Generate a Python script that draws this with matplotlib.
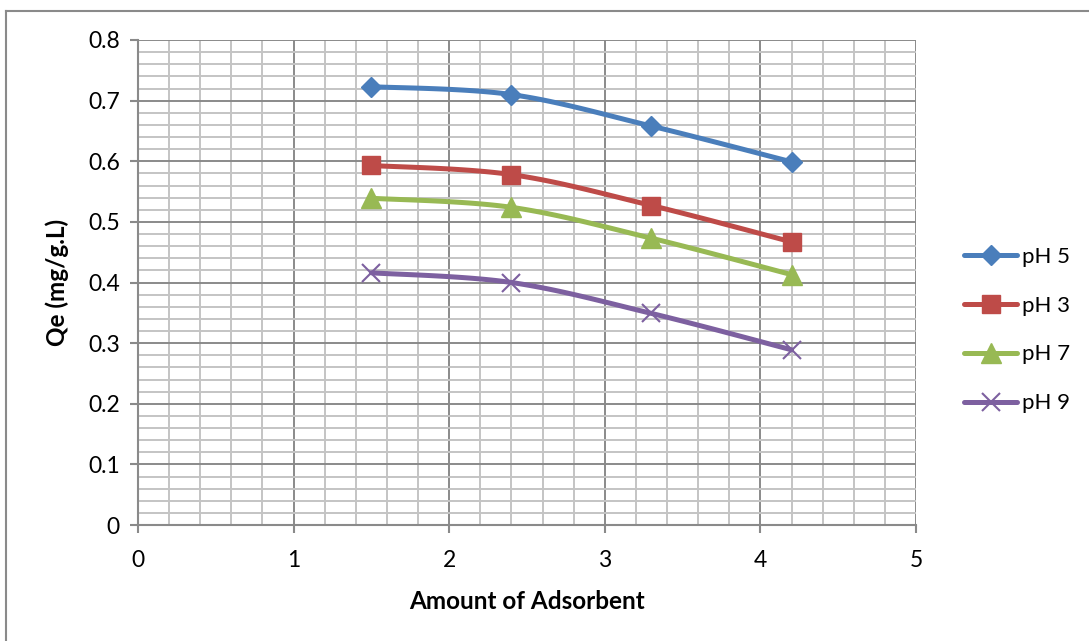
import numpy as np
import matplotlib
matplotlib.use("Agg")
import matplotlib.pyplot as plt
from matplotlib.lines import Line2D
from matplotlib.ticker import MultipleLocator

plt.rcParams['font.family'] = ['Lato', 'DejaVu Sans']

# Adsorbent amounts and equilibrium uptake per pH
adsorbent = [1.5, 2.4, 3.3, 4.2]
qe_ph5 = [0.723, 0.710, 0.658, 0.599]
qe_ph3 = [0.593, 0.578, 0.527, 0.467]
qe_ph7 = [0.539, 0.524, 0.473, 0.413]
qe_ph9 = [0.416, 0.400, 0.349, 0.289]
series_labels = ["pH 5", "pH 3", "pH 7", "pH 9"]

x_ticks = [0, 1, 2, 3, 4, 5]
y_ticks = [0, 0.1, 0.2, 0.3, 0.4, 0.5, 0.6, 0.7, 0.8]
y_tick_labels = ["0", "0.1", "0.2", "0.3", "0.4", "0.5", "0.6", "0.7", "0.8"]


def smooth_curve(xs, ys, n=30):
    """Catmull-Rom style smoothing through the given points (cubic Bezier segments)."""
    p = np.column_stack([xs, ys]).astype(float)
    ext = np.vstack([p[0], p, p[-1]])
    out = []
    t = np.linspace(0, 1, n)[:, None]
    for i in range(1, len(ext) - 2):
        p0, p1, p2, p3 = ext[i - 1], ext[i], ext[i + 1], ext[i + 2]
        c1 = p1 + (p2 - p0) / 6.0
        c2 = p2 - (p3 - p1) / 6.0
        seg = ((1 - t) ** 3) * p1 + 3 * ((1 - t) ** 2) * t * c1 + 3 * (1 - t) * t ** 2 * c2 + t ** 3 * p2
        out.append(seg if i == 1 else seg[1:])
    s = np.vstack(out)
    return s[:, 0], s[:, 1]


fig = plt.figure(figsize=(10.89, 6.41), dpi=100)
ax = fig.add_axes([138 / 1089, 1 - 525 / 641, (916 - 138) / 1089, (525 - 40) / 641])

ax.set_xlim(0, 5)
ax.set_ylim(0, 0.8)
ax.xaxis.set_major_locator(MultipleLocator(1))
ax.xaxis.set_minor_locator(MultipleLocator(0.2))
ax.yaxis.set_major_locator(MultipleLocator(0.1))
ax.yaxis.set_minor_locator(MultipleLocator(0.02))
ax.set_xticks(x_ticks)
ax.set_yticks(y_ticks)
ax.set_yticklabels(y_tick_labels)

ax.grid(which='minor', color='#c4c4c4', linewidth=1.4, zorder=0)
ax.grid(which='major', color='#8a8a8a', linewidth=1.4, zorder=0.5)
ax.set_axisbelow(True)

for side in ['top', 'right']:
    ax.spines[side].set_visible(False)
for side in ['left', 'bottom']:
    ax.spines[side].set_color('#8a8a8a')
    ax.spines[side].set_linewidth(1.5)

ax.tick_params(which='major', direction='out', length=6, width=1.5, color='#8a8a8a',
               labelsize=16.5, pad=7)
ax.tick_params(which='minor', length=0)
ax.tick_params(axis='x', pad=12)

styles = [
    (qe_ph5, '#4A7EBB', 'D', 10.5),
    (qe_ph3, '#BE4B48', 's', 13.5),
    (qe_ph7, '#98B954', '^', 14),
    (qe_ph9, '#7D60A0', 'x', 13),
]

handles = []
for (vals, color, marker, ms), label in zip(styles, series_labels):
    sx, sy = smooth_curve(adsorbent, vals)
    ax.plot(sx, sy, color=color, linewidth=3.6, solid_capstyle='round', zorder=3, clip_on=False)
    ax.plot(adsorbent, vals, linestyle='none', marker=marker, markersize=ms,
            color=color, markeredgecolor=color, markeredgewidth=1.5 if marker == 'x' else 1,
            zorder=4, clip_on=False)
    handles.append(Line2D([0], [0], color=color, linewidth=3.6, marker=marker, markersize=ms,
                          markeredgecolor=color, markeredgewidth=1.5 if marker == 'x' else 1,
                          solid_capstyle='round', label=label))

ax.set_xlabel("Amount of Adsorbent", fontsize=17.5, fontweight='bold', labelpad=14)
ax.set_ylabel("Qe (mg/g.L)", fontsize=17.5, fontweight='bold', labelpad=14)

fig.legend(handles=handles, loc='center left', bbox_to_anchor=(964 / 1089, 1 - 330 / 641),
           frameon=False, fontsize=16, handlelength=2.4, handletextpad=0.2,
           labelspacing=1.3, borderaxespad=0, borderpad=0)

# Chart area frame
fig.add_artist(Line2D([6 / 1089, 1.0], [1 - 11 / 641, 1 - 11 / 641], color='#8a8a8a', linewidth=1.5))
fig.add_artist(Line2D([6 / 1089, 6 / 1089], [1 - 11 / 641, 0.0], color='#8a8a8a', linewidth=1.5))

fig.savefig("out.png", dpi=100)
